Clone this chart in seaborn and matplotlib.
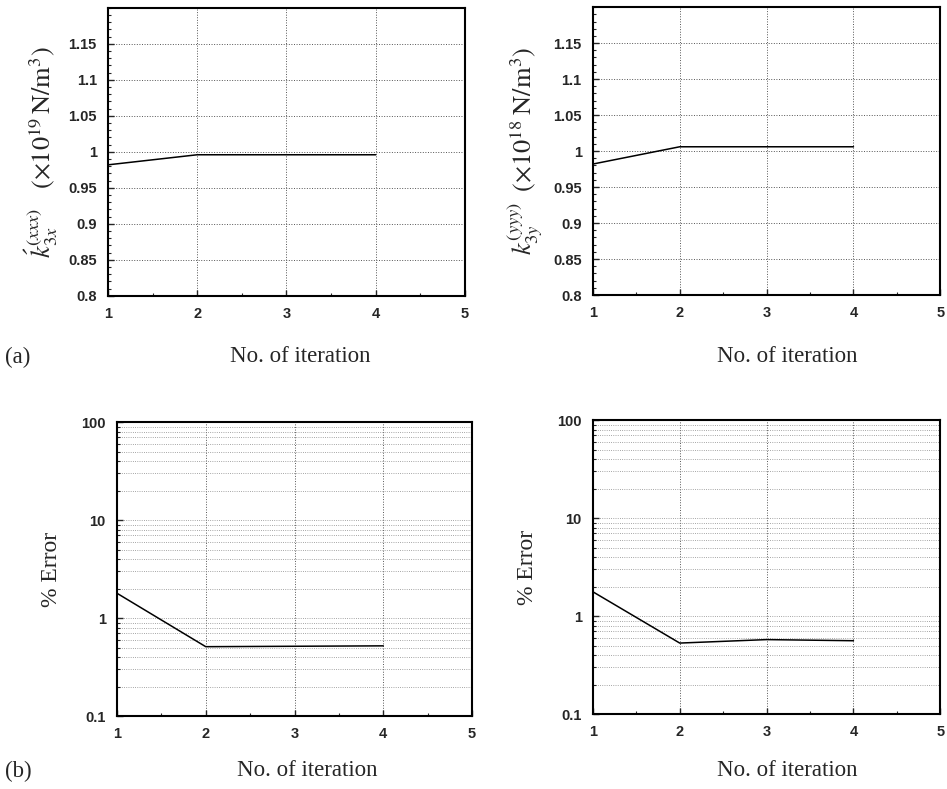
import matplotlib
matplotlib.use("Agg")
import matplotlib.pyplot as plt
from matplotlib.ticker import FixedLocator, MultipleLocator, LogLocator, NullFormatter, FixedFormatter
import seaborn as sns
import pandas as pd

# ---- data ----
iterations = [1, 2, 3, 4]
k3x_values = [0.982, 0.996, 0.996, 0.996]
k3y_values = [0.982, 1.006, 1.006, 1.006]
err_x_values = [1.79, 0.51, 0.515, 0.52]
err_y_values = [1.77, 0.53, 0.575, 0.56]

x_ticks = [1, 2, 3, 4, 5]
lin_yticks = [0.8, 0.85, 0.9, 0.95, 1.0, 1.05, 1.1, 1.15]
lin_ylabels = ['0.8', '0.85', '0.9', '0.95', '1', '1.05', '1.1', '1.15']
log_yticks = [0.1, 1, 10, 100]
log_ylabels = ['0.1', '1', '10', '100']

sns.set_style("ticks")
plt.rcParams['font.family'] = ['Liberation Serif', 'DejaVu Serif']
plt.rcParams['mathtext.fontset'] = 'stix'

fig = plt.figure(figsize=(9.47, 7.89), dpi=100)
positions = [
    [0.114, 0.625, 0.377, 0.365],
    [0.626, 0.626, 0.367, 0.365],
    [0.1235, 0.0925, 0.375, 0.3726],
    [0.626, 0.095, 0.367, 0.3726],
]
axes = [fig.add_axes(p) for p in positions]

series = [k3x_values, k3y_values, err_x_values, err_y_values]

for i, (ax, vals) in enumerate(zip(axes, series)):
    df = pd.DataFrame({'iter': iterations, 'val': vals})
    sns.lineplot(data=df, x='iter', y='val', ax=ax, color='black', linewidth=1.1)
    ax.set_xlim(1, 5)
    ax.xaxis.set_major_locator(FixedLocator(x_ticks))
    ax.xaxis.set_minor_locator(MultipleLocator(0.5))
    if i < 2:
        ax.set_ylim(0.8, 1.2)
        ax.yaxis.set_major_locator(FixedLocator(lin_yticks))
        ax.yaxis.set_major_formatter(FixedFormatter(lin_ylabels))
        ax.yaxis.set_minor_locator(MultipleLocator(0.01))
        ax.grid(True, which='major', linestyle=':', color='#555555', linewidth=0.7)
    else:
        ax.set_yscale('log')
        ax.set_ylim(0.1, 100)
        ax.yaxis.set_major_locator(FixedLocator(log_yticks))
        ax.yaxis.set_major_formatter(FixedFormatter(log_ylabels))
        ax.yaxis.set_minor_locator(LogLocator(base=10, subs=range(2, 10)))
        ax.yaxis.set_minor_formatter(NullFormatter())
        ax.grid(True, which='major', axis='x', linestyle=':', color='#555555', linewidth=0.7)
        ax.grid(True, which='both', axis='y', linestyle=':', color='#888888', linewidth=0.6)
    ax.tick_params(which='both', direction='in', top=False, right=False)
    ax.tick_params(which='major', length=4, width=1, pad=8)
    ax.tick_params(which='minor', length=2.5, width=0.8)
    for lab in ax.get_xticklabels() + ax.get_yticklabels():
        lab.set_fontfamily('Liberation Sans')
        lab.set_fontweight('bold')
        lab.set_fontsize(10.5)
    for sp in ax.spines.values():
        sp.set_visible(True)
        sp.set_linewidth(1.5)
        sp.set_color('black')
    ax.set_xlabel('')
    ax.set_ylabel('')

label_kw = dict(fontsize=16.5, family='Liberation Serif')

axes[0].set_ylabel(r'$\acute{k}_{3x}^{(xxx)}\quad(\times10^{19}\,\mathrm{N/m^3})$', fontsize=19, labelpad=6)
axes[1].set_ylabel(r'$k_{3y}^{(yyy)}\;\;(\times10^{18}\;\mathrm{N/m^3})$', fontsize=19, labelpad=6)
axes[2].set_ylabel('% Error', labelpad=14, fontsize=17, family='Liberation Serif')
axes[3].set_ylabel('% Error', labelpad=14, fontsize=17, family='Liberation Serif')

fig.text(300 / 947, 1 - 357 / 789, 'No. of iteration', ha='center', va='center', **label_kw)
fig.text(787 / 947, 1 - 357 / 789, 'No. of iteration', ha='center', va='center', **label_kw)
fig.text(307 / 947, 1 - 771 / 789, 'No. of iteration', ha='center', va='center', **label_kw)
fig.text(787 / 947, 1 - 771 / 789, 'No. of iteration', ha='center', va='center', **label_kw)
fig.text(5 / 947, 1 - 357 / 789, '(a)', ha='left', va='center', **label_kw)
fig.text(5 / 947, 1 - 771 / 789, '(b)', ha='left', va='center', **label_kw)

fig.savefig('out.png', dpi=100)
